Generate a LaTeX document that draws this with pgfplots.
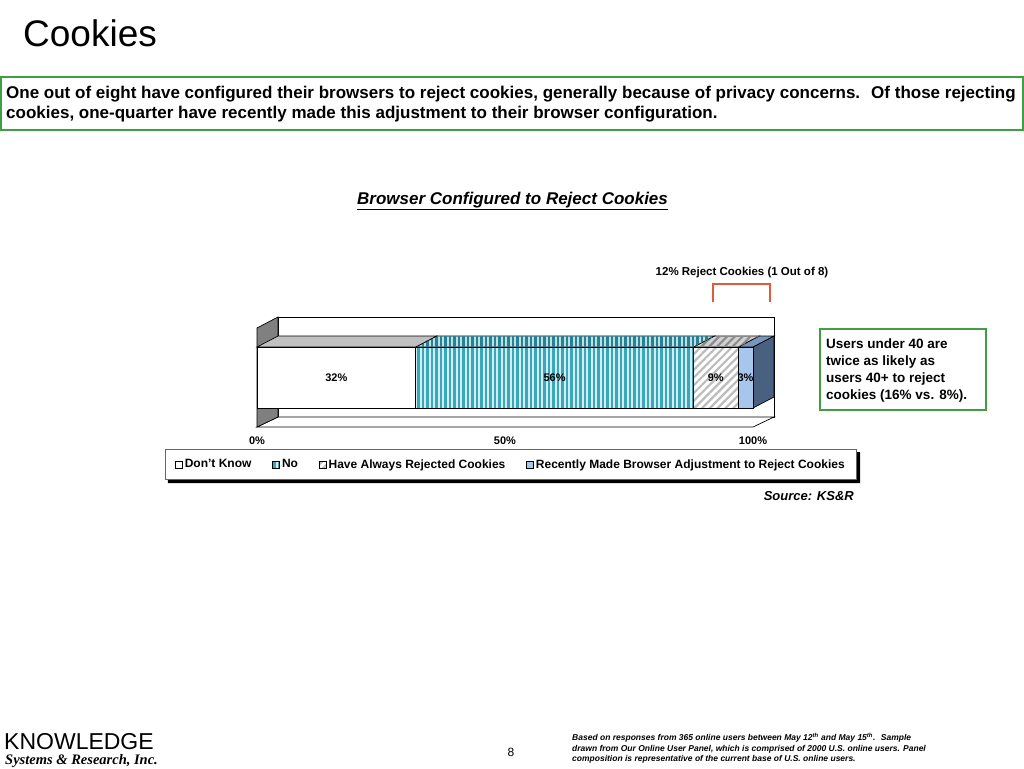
\documentclass[border=0pt]{standalone}
\usepackage{fontspec}
\setmainfont{Liberation Sans}
\newfontfamily\timesf{Liberation Serif}
\usepackage{pgfplots}
\pgfplotsset{compat=1.18}
\usetikzlibrary{patterns.meta}
\definecolor{kgreen}{RGB}{64,160,64}
\definecolor{kteal}{RGB}{56,168,188}
\definecolor{ktealtop}{RGB}{40,128,146}
\definecolor{khatch}{RGB}{188,188,188}
\definecolor{khatchtop}{RGB}{140,140,140}
\definecolor{kblue}{RGB}{166,198,236}
\definecolor{kbluetop}{RGB}{120,150,188}
\definecolor{kside}{RGB}{74,96,128}
\definecolor{kwall}{RGB}{128,128,128}
\definecolor{kdktop}{RGB}{192,192,192}
\definecolor{kbracket}{RGB}{222,92,60}
\newcommand{\fs}[2]{\fontsize{#1}{#2}\selectfont}
\begin{document}
\begin{tikzpicture}
\begin{scope}[x=1pt,y=-1pt]
\useasboundingbox (0,0) rectangle (1024,768);
\fill[white] (0,0) rectangle (1024,768);
% slide title
\node[anchor=base west, inner sep=0, font=\fs{37}{40}] at (23,47) {Cookies};
% headline box
\draw[kgreen, line width=1.3pt] (1,77) rectangle (1023,130);
\node[anchor=base west, inner sep=0, font=\fs{17}{20}\bfseries] at (6,98) {One out of eight have configured their browsers to reject cookies, generally because of privacy concerns.~ Of those rejecting};
\node[anchor=base west, inner sep=0, font=\fs{17}{20}\bfseries] at (6,118) {cookies, one-quarter have recently made this adjustment to their browser configuration.};
% chart title
\node[anchor=base, inner sep=0, font=\fs{17}{20}\bfseries\itshape] at (512.5,204) {\underline{Browser Configured to Reject Cookies}};
% bracket annotation
\node[anchor=base, inner sep=0, font=\fs{11.5}{13}\bfseries] at (742,275) {12\% Reject Cookies (1 Out of 8)};
\draw[kbracket, line width=1.2pt] (713,302) -- (713,284) -- (770,284) -- (770,302);
% right note box
\draw[kgreen, line width=1.3pt] (820,329) rectangle (986,410);
\node[anchor=base west, inner sep=0, font=\fs{13.5}{17}\bfseries] at (826,348) {Users under 40 are};
\node[anchor=base west, inner sep=0, font=\fs{13.5}{17}\bfseries] at (826,365) {twice as likely as};
\node[anchor=base west, inner sep=0, font=\fs{13.5}{17}\bfseries] at (826,382) {users 40+ to reject};
\node[anchor=base west, inner sep=0, font=\fs{13.5}{17}\bfseries] at (826,399) {cookies (16\% vs. 8\%).};
% source
\node[anchor=base east, inner sep=0, font=\fs{13}{15}\bfseries\itshape] at (854,500) {Source: KS\&R};
% footer
\node[anchor=base west, inner sep=0, font=\fs{23}{25}] at (4,749) {KNOWLEDGE};
\node[anchor=base west, inner sep=0, font=\timesf\fs{14.5}{16}\bfseries\itshape] at (5,764) {Systems \& Research, Inc.};
\node[anchor=base, inner sep=0, font=\fs{12}{14}] at (511,756) {8};
\node[anchor=base west, inner sep=0, font=\fs{8.5}{10}\bfseries\itshape] at (572,740) {Based on responses from 365 online users between May 12\textsuperscript{th} and May 15\textsuperscript{th}.~ Sample};
\node[anchor=base west, inner sep=0, font=\fs{8.5}{10}\bfseries\itshape] at (572,751) {drawn from Our Online User Panel, which is comprised of 2000 U.S. online users. Panel};
\node[anchor=base west, inner sep=0, font=\fs{8.5}{10}\bfseries\itshape] at (572,761) {composition is representative of the current base of U.S. online users.};
% 3-D frame: back wall, floor, left wall
\draw[black, line width=0.7pt, fill=white] (278,317) rectangle (774,417);
\draw[black, line width=0.7pt, fill=white] (257,427) -- (278,417) -- (774,417) -- (753,427) -- cycle;
\draw[black, line width=0.7pt, fill=kwall] (257,427) -- (257,328) -- (278,317) -- (278,417) -- cycle;
\end{scope}

\begin{axis}[
  at={(257pt,-427pt)}, anchor=south west,
  scale only axis, width=496pt, height=80pt,
  xmin=0, xmax=100, ymin=0, ymax=80,
  xbar stacked, bar width=61pt,
  hide y axis,
  axis x line*=bottom,
  x axis line style={draw=none},
  xtick={0,50,100},
  xticklabel={\pgfmathprintnumber{\tick}\%},
  xticklabel style={font=\fs{11}{13}\bfseries, yshift=-6pt},
  major tick length=0pt,
  /pgf/number format/assume math mode=true,
  clip=false,
  legend columns=4,
  legend style={name=leg, at={(0.512,-0.275)}, anchor=north, font=\fs{12}{14}\bfseries,
    draw=gray!80!black, line width=0.8pt, fill=white,
    inner xsep=10pt, inner ysep=8pt,
    /tikz/every even column/.append style={column sep=19pt}},
  legend image code/.code={\draw[#1, line width=0.6pt] (0pt,-3.5pt) rectangle (7pt,3.5pt);},
  visualization depends on={rawx \as \rawx},
  nodes near coords={\pgfmathprintnumber{\rawx}\%},
  every node near coord/.append style={font=\fs{11}{13}\bfseries, anchor=center, text=black},
]
\addplot[fill=white, draw=black, line width=0.7pt] coordinates {(32,49.5)};
\addplot[fill=kteal!22, draw=black, line width=0.7pt, postaction={pattern={Lines[angle=90,distance=4.5pt,line width=2.9pt]}, pattern color=kteal}] coordinates {(56,49.5)};
\addplot[fill=white, draw=black, line width=0.7pt, postaction={pattern={Lines[angle=45,distance=5.5pt,line width=2.2pt]}, pattern color=khatch}] coordinates {(9,49.5)};
\addplot[fill=kblue, draw=black, line width=0.7pt] coordinates {(3,49.5)};
\legend{Don't Know, No, Have Always Rejected Cookies, Recently Made Browser Adjustment to Reject Cookies}
% 3-D top faces and side face of the stacked bar
\filldraw[fill=kdktop, draw=black, line width=0.7pt] (axis cs:0,80) -- (axis cs:32,80) -- ([shift={(21pt,11pt)}]axis cs:32,80) -- ([shift={(21pt,11pt)}]axis cs:0,80) -- cycle;
\filldraw[fill=kteal!35, draw=black, line width=0.7pt, postaction={pattern={Lines[angle=90,distance=4.5pt,line width=2.9pt]}, pattern color=ktealtop}] (axis cs:32,80) -- (axis cs:88,80) -- ([shift={(21pt,11pt)}]axis cs:88,80) -- ([shift={(21pt,11pt)}]axis cs:32,80) -- cycle;
\filldraw[fill=gray!35, draw=black, line width=0.7pt, postaction={pattern={Lines[angle=45,distance=5.5pt,line width=2.2pt]}, pattern color=khatchtop}] (axis cs:88,80) -- (axis cs:97,80) -- ([shift={(21pt,11pt)}]axis cs:97,80) -- ([shift={(21pt,11pt)}]axis cs:88,80) -- cycle;
\filldraw[fill=kbluetop, draw=black, line width=0.7pt] (axis cs:97,80) -- (axis cs:100,80) -- ([shift={(21pt,11pt)}]axis cs:100,80) -- ([shift={(21pt,11pt)}]axis cs:97,80) -- cycle;
\filldraw[fill=kside, draw=black, line width=0.7pt] (axis cs:100,80) -- ([shift={(21pt,11pt)}]axis cs:100,80) -- ([shift={(21pt,11pt)}]axis cs:100,19) -- (axis cs:100,19) -- cycle;
\end{axis}
% legend drop shadow (black, offset right and down)
\fill[black] ([yshift=-3pt]leg.north east) -- ([xshift=3pt,yshift=-3pt]leg.north east) -- ([xshift=3pt,yshift=-3pt]leg.south east) -- ([xshift=3pt,yshift=-3pt]leg.south west) -- ([xshift=3pt]leg.south west) -- (leg.south east) -- cycle;
\end{tikzpicture}
\end{document}
